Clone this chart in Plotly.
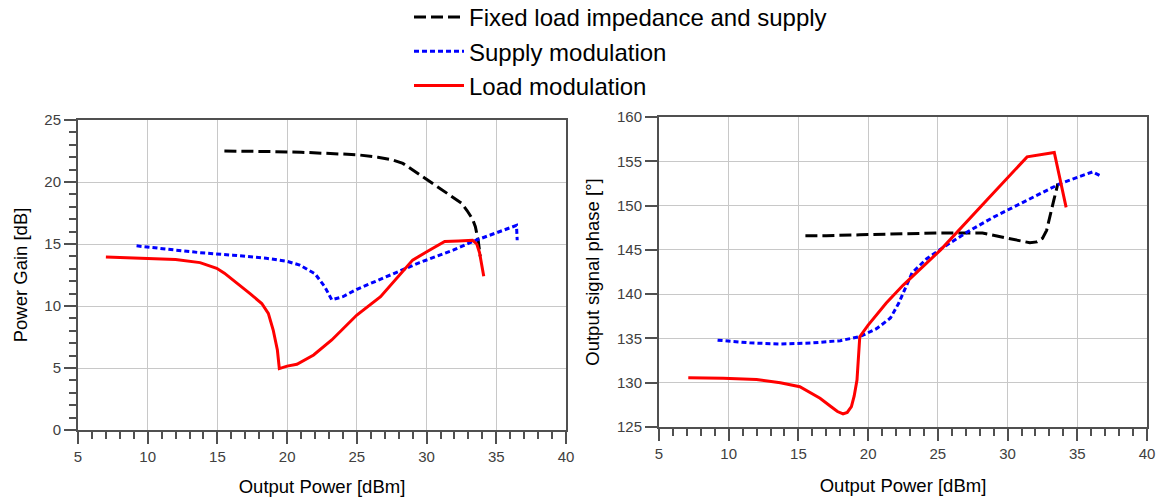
import plotly.graph_objects as go

# ---------------- data ----------------
# Left: Power Gain [dB] vs Output Power [dBm]
fixed_gain_x = [15.5, 17, 19, 21, 23, 25, 26.5, 27.5, 28.3, 29, 29.75, 30.8, 31.9, 32.5, 32.9, 33.3, 33.5, 33.7, 33.85]
fixed_gain_y = [22.5, 22.5, 22.45, 22.4, 22.3, 22.2, 22.0, 21.8, 21.5, 21.0, 20.4, 19.6, 18.8, 18.3, 17.7, 17.0, 16.4, 15.3, 14.0]

supply_gain_x = [9.2, 10, 12, 13.75, 16.1, 18.5, 20.0, 20.9, 22.0, 22.7, 23.2, 24.0, 25.0, 26.7, 28.0, 29.5, 30.7, 31.9, 33.3, 34.8, 36.2, 36.45, 36.5]
supply_gain_y = [14.85, 14.75, 14.5, 14.3, 14.1, 13.85, 13.6, 13.3, 12.6, 11.55, 10.5, 10.75, 11.35, 12.15, 12.8, 13.5, 14.0, 14.5, 15.2, 15.8, 16.4, 16.5, 15.3]

load_gain_x = [7.0, 8.5, 10, 12, 13.75, 14.95, 15.5, 16.14, 17.34, 18.18, 18.65, 19.0, 19.3, 19.44, 20.0, 20.7, 21.9, 23.2, 24.1, 25.0, 26.7, 27.7, 29.0, 30.2, 31.3, 32.3, 33.3, 33.6, 33.8, 34.1]
load_gain_y = [13.95, 13.9, 13.85, 13.75, 13.5, 13.04, 12.65, 12.1, 11.0, 10.2, 9.4, 8.06, 6.45, 4.95, 5.15, 5.3, 6.05, 7.26, 8.25, 9.27, 10.75, 12.0, 13.7, 14.5, 15.2, 15.25, 15.3, 15.0, 14.3, 12.4]

# Right: Output signal phase [deg] vs Output Power [dBm]
fixed_phase_x = [15.5, 17, 19.4, 22, 25, 28.2, 29.2, 30.2, 31.0, 31.6, 32.1, 32.5, 32.8, 33.05, 33.3, 33.55, 33.6]
fixed_phase_y = [146.6, 146.6, 146.7, 146.8, 146.9, 146.9, 146.6, 146.3, 146.0, 145.8, 145.9, 146.3, 147.2, 148.7, 150.5, 152.1, 152.5]

supply_phase_x = [9.2, 11.5, 13.7, 16.07, 18.0, 19.4, 20.6, 21.6, 22.2, 22.4, 23.15, 24.2, 25.4, 27.2, 29.0, 31.4, 33.8, 35.2, 36.1, 36.6]
supply_phase_y = [134.8, 134.5, 134.37, 134.5, 134.75, 135.2, 136.1, 137.3, 139.0, 139.7, 142.4, 144.0, 145.3, 147.1, 148.7, 150.6, 152.5, 153.3, 153.8, 153.4]

load_phase_x = [7.1, 9.6, 12.0, 13.7, 15.1, 16.55, 17.3, 17.8, 18.2, 18.5, 18.8, 19.0, 19.2, 19.4, 20.0, 21.3, 22.5, 25.2, 28.5, 31.4, 33.35, 34.2]
load_phase_y = [130.55, 130.5, 130.35, 130.0, 129.55, 128.24, 127.35, 126.75, 126.47, 126.65, 127.3, 128.5, 130.3, 135.2, 136.5, 139.0, 141.0, 145.0, 150.6, 155.5, 156.0, 149.8]

names = ["Fixed load impedance and supply", "Supply modulation", "Load modulation"]
colors = ["#000000", "#0000ff", "#ff0000"]
dashes = ["12px,5px", "5px,3px", "solid"]

FONT = "Arial, Liberation Sans, sans-serif"

fig = go.Figure()

left_sets = [(fixed_gain_x, fixed_gain_y), (supply_gain_x, supply_gain_y), (load_gain_x, load_gain_y)]
right_sets = [(fixed_phase_x, fixed_phase_y), (supply_phase_x, supply_phase_y), (load_phase_x, load_phase_y)]

for i, (xs, ys) in enumerate(left_sets):
    fig.add_trace(go.Scatter(x=xs, y=ys, mode="lines", name=names[i],
                             line=dict(color=colors[i], width=3, dash=dashes[i]),
                             xaxis="x", yaxis="y", showlegend=True))
for i, (xs, ys) in enumerate(right_sets):
    fig.add_trace(go.Scatter(x=xs, y=ys, mode="lines", name=names[i],
                             line=dict(color=colors[i], width=3, dash=dashes[i]),
                             xaxis="x2", yaxis="y2", showlegend=False))

# body margin is removed in the page, so the figure fills the window
W, H = 1158, 497
def px_x(p):
    return p / W
def px_y(p):
    return 1 - p / H

axis_common = dict(
    showline=True, linecolor="#505050", linewidth=2, mirror=True,
    showgrid=True, gridcolor="#c8c8c8", gridwidth=1,
    ticks="outside", ticklen=12, tickwidth=1.5, tickcolor="#505050",
    tickfont=dict(family=FONT, size=15, color="#404040"),
    zeroline=False, automargin=False,
)
title_font = dict(family=FONT, size=18.5, color="#000")

fig.update_layout(
    width=W, height=H,
    margin=dict(l=0, r=0, t=0, b=0, autoexpand=False),
    paper_bgcolor="white", plot_bgcolor="white",
    font=dict(family=FONT, color="#000000"),
    xaxis=dict(domain=[px_x(78), px_x(566)], range=[5, 40], dtick=5, anchor="y",
               minor=dict(dtick=1, ticks="outside", ticklen=7, tickcolor="#505050", showgrid=False),
               title=dict(text="Output Power [dBm]", font=title_font, standoff=18),
               **axis_common),
    yaxis=dict(domain=[px_y(430), px_y(120)], range=[0, 25], dtick=5, anchor="x",
               minor=dict(dtick=1, ticks="outside", ticklen=7, tickcolor="#505050", showgrid=False),
               title=dict(text="Power Gain [dB]", font=title_font, standoff=12),
               **axis_common),
    xaxis2=dict(domain=[px_x(659), px_x(1147)], range=[5, 40], dtick=5, anchor="y2",
                minor=dict(dtick=1, ticks="outside", ticklen=7, tickcolor="#505050", showgrid=False),
                title=dict(text="Output Power [dBm]", font=title_font, standoff=18),
                **axis_common),
    yaxis2=dict(domain=[px_y(427), px_y(117)], range=[125, 160], dtick=5, anchor="x2",
                title=dict(text="Output signal phase [°]", font=title_font, standoff=12),
                **axis_common),
    legend=dict(x=px_x(409), y=1 + 5 / H, xanchor="left", yanchor="top",
                font=dict(family=FONT, size=24, color="#000"),
                bgcolor="rgba(0,0,0,0)", itemwidth=50, tracegroupgap=0),
)

fig.write_html("out.html",
               config={"displayModeBar": False},
               post_script="document.body.style.margin='0px';document.body.style.padding='0px';document.body.style.overflow='hidden';")
